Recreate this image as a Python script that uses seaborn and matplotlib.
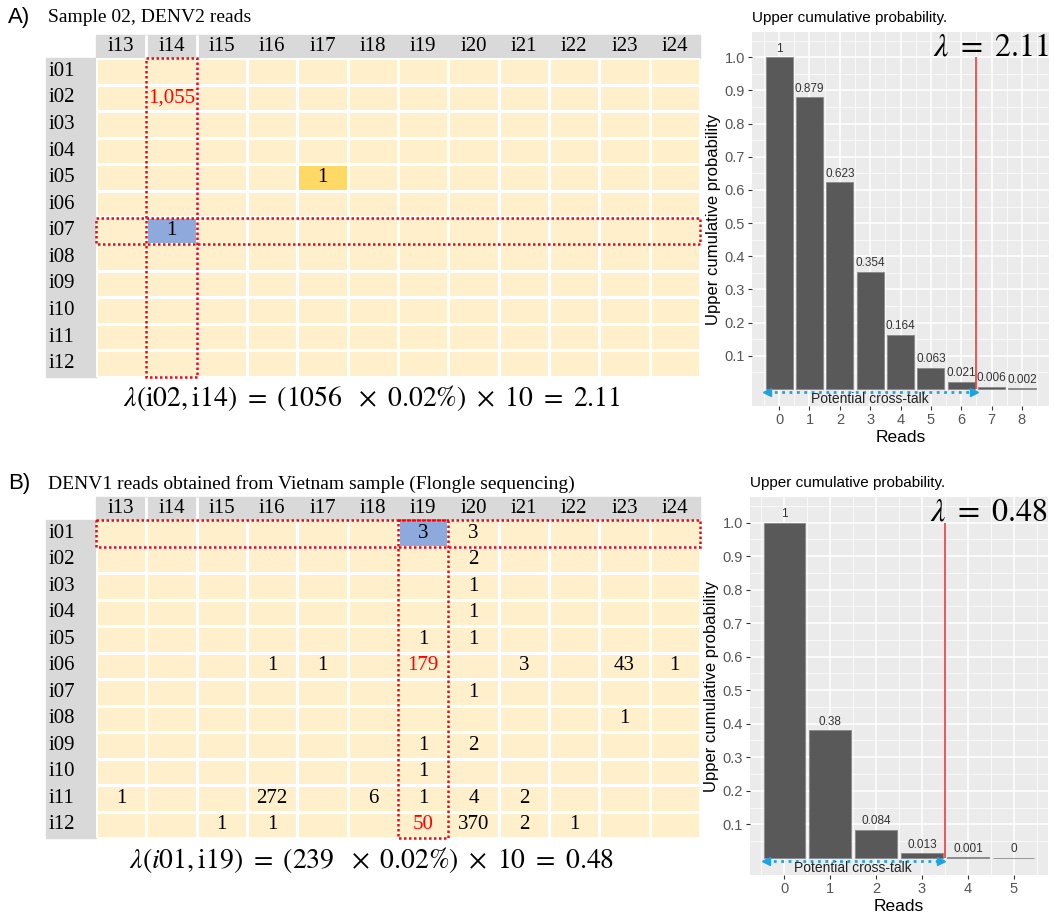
import numpy as np
import pandas as pd
import matplotlib

matplotlib.use("Agg")
import matplotlib.pyplot as plt
import seaborn as sns
from matplotlib.colors import ListedColormap
from matplotlib.patches import Rectangle
import matplotlib.transforms as mtransforms

# Datos de las tablas de lecturas
filas = ["i01", "i02", "i03", "i04", "i05", "i06", "i07", "i08", "i09", "i10", "i11", "i12"]
columnas = ["i13", "i14", "i15", "i16", "i17", "i18", "i19", "i20", "i21", "i22", "i23", "i24"]

# Panel A: (fila, columna, lecturas)
lecturas_a = [("i02", "i14", 1055), ("i05", "i17", 1), ("i07", "i14", 1)]
amarillas_a = [("i05", "i17")]
azules_a = [("i07", "i14")]
rojas_a = [("i02", "i14")]
foco_a = ("i07", "i14")
formula_a = r"$\lambda(\mathrm{i02,i14})\ =\ (1056\ \ \times\ 0.02\%)\ \times\ 10\ =\ 2.11$"

# Panel B
lecturas_b = [
    ("i01", "i19", 3), ("i01", "i20", 3),
    ("i02", "i20", 2),
    ("i03", "i20", 1),
    ("i04", "i20", 1),
    ("i05", "i19", 1), ("i05", "i20", 1),
    ("i06", "i16", 1), ("i06", "i17", 1), ("i06", "i19", 179), ("i06", "i21", 3),
    ("i06", "i23", 43), ("i06", "i24", 1),
    ("i07", "i20", 1),
    ("i08", "i23", 1),
    ("i09", "i19", 1), ("i09", "i20", 2),
    ("i10", "i19", 1),
    ("i11", "i13", 1), ("i11", "i16", 272), ("i11", "i18", 6), ("i11", "i19", 1),
    ("i11", "i20", 4), ("i11", "i21", 2),
    ("i12", "i15", 1), ("i12", "i16", 1), ("i12", "i19", 50), ("i12", "i20", 370),
    ("i12", "i21", 2), ("i12", "i22", 1),
]
amarillas_b = []
azules_b = [("i01", "i19")]
rojas_b = [("i06", "i19"), ("i12", "i19")]
foco_b = ("i01", "i19")
formula_b = r"$\lambda(i01,\mathrm{i19})\ =\ (239\ \ \times\ 0.02\%)\ \times\ 10\ =\ 0.48$"

# Probabilidad acumulada superior
reads_a = [0, 1, 2, 3, 4, 5, 6, 7, 8]
prob_a = [1, 0.879, 0.623, 0.354, 0.164, 0.063, 0.021, 0.006, 0.002]
corte_a = 6.5
lambda_a = r"$\lambda\ =\ 2.11$"

reads_b = [0, 1, 2, 3, 4, 5]
prob_b = [1, 0.38, 0.084, 0.013, 0.001, 0]
corte_b = 3.5
lambda_b = r"$\lambda\ =\ 0.48$"

# Estilo
plt.rcParams["mathtext.fontset"] = "stix"
SERIF = ["Liberation Serif", "DejaVu Serif"]
SANS = ["Liberation Sans", "DejaVu Sans"]
CREMA, AMARILLO, AZUL = "#FFF0CB", "#FFD966", "#8EA9DB"
GRIS = "#D9D9D9"


def dibujar_tabla(ax, lecturas, amarillas, azules, rojas, foco):
    estado = pd.DataFrame(0, index=filas, columns=columnas)
    texto = pd.DataFrame("", index=filas, columns=columnas)
    for f, c, v in lecturas:
        texto.at[f, c] = f"{v:,}"
    for f, c in amarillas:
        estado.at[f, c] = 1
    for f, c in azules:
        estado.at[f, c] = 2

    sns.heatmap(
        estado,
        annot=texto,
        fmt="",
        cmap=ListedColormap([CREMA, AMARILLO, AZUL]),
        vmin=-0.5,
        vmax=2.5,
        cbar=False,
        linewidths=2,
        linecolor="white",
        annot_kws={"fontsize": 15, "family": SERIF, "color": "black"},
        ax=ax,
    )
    ax.set_xticks([])
    ax.set_yticks([])
    ax.set_xlabel("")
    ax.set_ylabel("")

    # celdas en rojo
    celdas_rojas = {(filas.index(f), columnas.index(c)) for f, c in rojas}
    for t in ax.texts:
        x, y = t.get_position()
        if (int(y), int(x)) in celdas_rojas:
            t.set_color("red")

    # encabezados grises
    ax.add_patch(Rectangle((0, -0.88), len(columnas), 0.88, color=GRIS, clip_on=False, zorder=0))
    ax.add_patch(Rectangle((-1.0, 0), 1.0, len(filas), color=GRIS, clip_on=False, zorder=0))
    ax.vlines([1, 2], -0.88, 0, color="white", lw=2, clip_on=False)
    for j, c in enumerate(columnas):
        ax.text(j + 0.5, -0.42, c, ha="center", va="center", fontsize=15, family=SERIF)
    for i, f in enumerate(filas):
        ax.text(-0.95, i + 0.5, f, ha="left", va="center", fontsize=15, family=SERIF)

    # recuadros punteados
    fi, cj = filas.index(foco[0]), columnas.index(foco[1])
    estilo = dict(fill=False, ec="red", lw=1.8, ls=(0, (1, 1)), clip_on=False, zorder=5)
    ax.add_patch(Rectangle((0, fi), len(columnas), 1, **estilo))
    ax.add_patch(Rectangle((cj, 0), 1, len(filas), **estilo))


def dibujar_prob(ax, reads, probs, corte, lam):
    ax.set_facecolor("#EBEBEB")
    sns.barplot(x=reads, y=probs, color="#595959", saturation=1, width=0.9,
                native_scale=True, ax=ax, zorder=2, edgecolor="#8A8A8A", linewidth=0.6)
    ax.bar_label(ax.containers[0], labels=[f"{p:g}" for p in probs], padding=2,
                 fontsize=8.5, color="#333333", family=SANS)

    n = len(reads)
    span = n - 1 + 0.9
    ax.set_xlim(-0.45 - 0.05 * span, n - 1 + 0.45 + 0.05 * span)
    ax.set_ylim(-0.05125, 1.07625)
    ax.set_xticks(reads)
    ax.set_xticks(np.arange(-0.5, n, 1.0), minor=True)
    ax.set_yticks(np.round(np.arange(0.1, 1.01, 0.1), 1))
    ax.set_yticks(np.arange(0.05, 1.06, 0.1), minor=True)
    ax.grid(which="major", color="white", lw=1.1)
    ax.grid(which="minor", color="white", lw=0.5)
    ax.set_axisbelow(True)
    for s in ax.spines.values():
        s.set_visible(False)
    ax.tick_params(which="major", length=3, color="#333333", labelcolor="#555555",
                   labelsize=10.5, pad=2)
    ax.tick_params(which="minor", length=0)
    for lab in ax.get_xticklabels() + ax.get_yticklabels():
        lab.set_family(SANS)

    ax.set_xlabel("Reads", fontsize=12.5, family=SANS, labelpad=2)
    ax.set_ylabel("Upper cumulative probability", fontsize=12, family=SANS, labelpad=3)
    ax.set_title("Upper cumulative probability.", loc="left", fontsize=11, family=SANS, pad=7)

    ax.vlines(corte, 0, 1, color="#EE3B3B", lw=1.2, zorder=3)
    y_flecha = -0.009
    ax.plot([-0.4, corte - 0.08], [y_flecha, y_flecha], ls=":", lw=2, color="#1CA3E3", zorder=4)
    ax.plot([-0.4], [y_flecha], marker="<", ms=6, color="#1CA3E3", zorder=4)
    ax.plot([corte - 0.08], [y_flecha], marker=">", ms=6, color="#1CA3E3", zorder=4)
    ax.text((corte - 0.5) / 2, -0.031, "Potential cross-talk", ha="center", va="center",
            fontsize=10, family=SANS, color="#222222", zorder=5)

    trans = mtransforms.blended_transform_factory(ax.transAxes, ax.transData)
    ax.text(1.0, 1.006, lam, transform=trans, ha="right", va="baseline", fontsize=23)


fig = plt.figure(figsize=(10.55, 9.14), dpi=100)
W, H = 1055, 914


def rect(x0, y0, x1, y1):
    return [x0 / W, 1 - y1 / H, (x1 - x0) / W, (y1 - y0) / H]


ax_ta = fig.add_axes(rect(96, 58, 700, 377))
dibujar_tabla(ax_ta, lecturas_a, amarillas_a, azules_a, rojas_a, foco_a)
ax_tb = fig.add_axes(rect(96, 520, 700, 838))
dibujar_tabla(ax_tb, lecturas_b, amarillas_b, azules_b, rojas_b, foco_b)

fig.text(8 / W, 1 - 18 / H, "A)", fontsize=16, family=SANS, va="center")
fig.text(48 / W, 1 - 18 / H, "Sample 02, DENV2 reads", fontsize=14, family=SERIF, va="center")
fig.text(8 / W, 1 - 484 / H, "B)", fontsize=16, family=SANS, va="center")
fig.text(48 / W, 1 - 484 / H, "DENV1 reads obtained from Vietnam sample (Flongle sequencing)",
         fontsize=14, family=SERIF, va="center")
fig.text(372 / W, 1 - 398 / H, formula_a, fontsize=20, ha="center", va="center")
fig.text(372 / W, 1 - 860 / H, formula_b, fontsize=20, ha="center", va="center")

ax_pa = fig.add_axes(rect(752, 32, 1049, 406))
dibujar_prob(ax_pa, reads_a, prob_a, corte_a, lambda_a)
ax_pb = fig.add_axes(rect(750, 497, 1048, 875))
dibujar_prob(ax_pb, reads_b, prob_b, corte_b, lambda_b)

fig.savefig("out.png", dpi=100)
